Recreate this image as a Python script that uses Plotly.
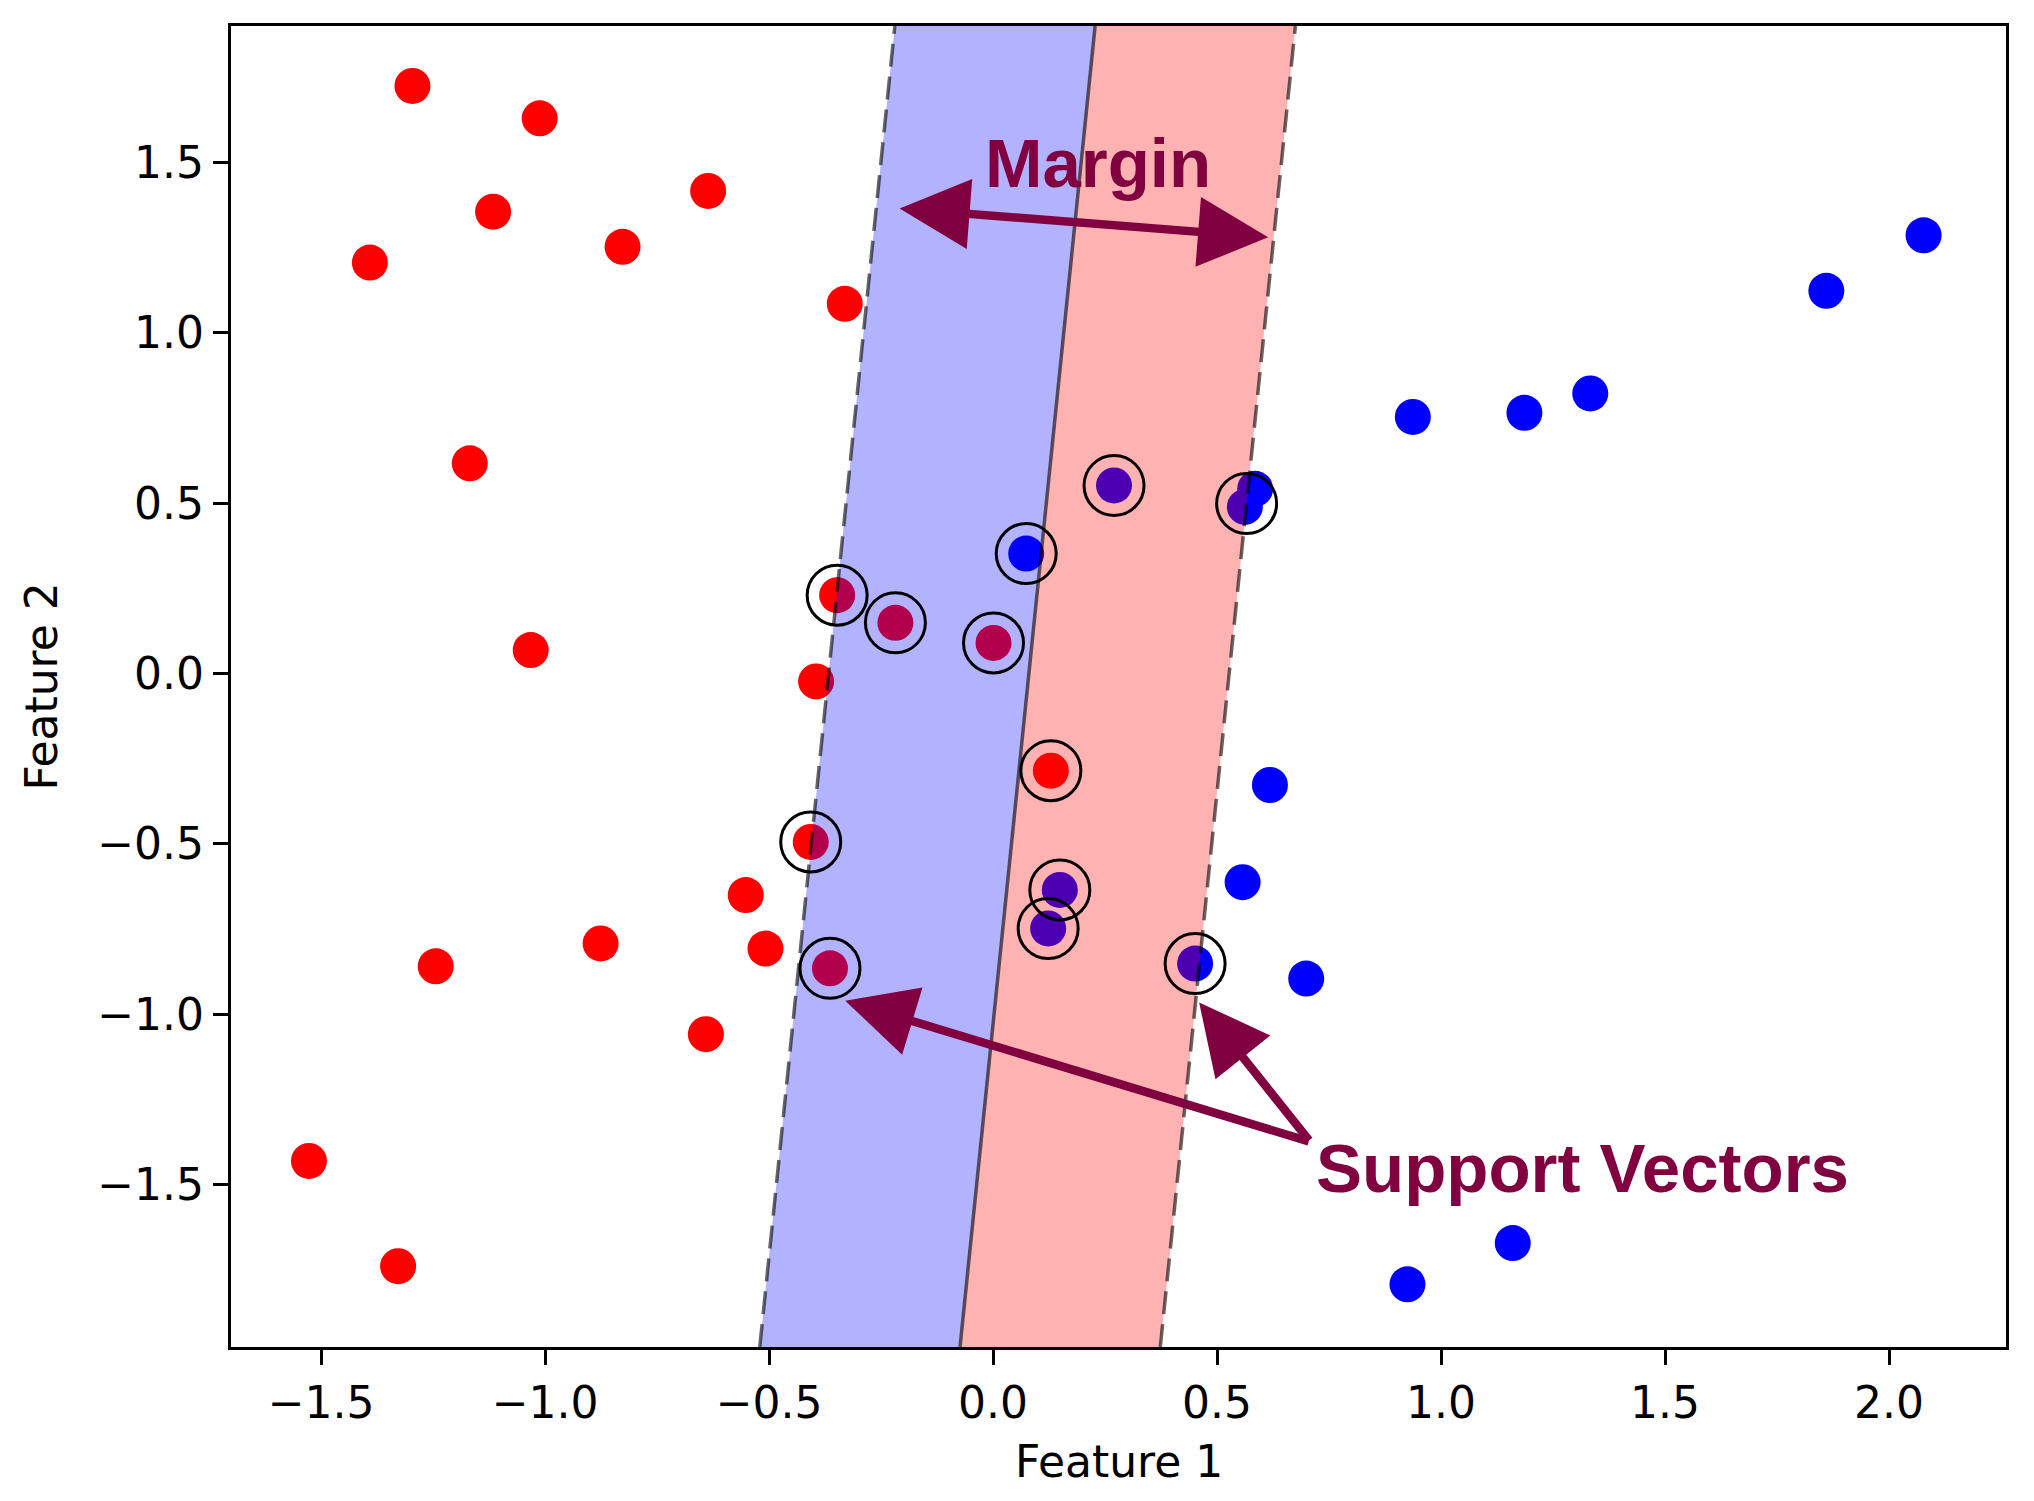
import plotly.graph_objects as go

# ---------------- data ----------------
red_x = [-1.296, -1.012, -1.116, -1.391, -0.827, -0.636, -0.331, -1.168, -1.032, -0.395,
         -0.348, -0.218, 0.001, 0.129, -0.407, -0.552, -0.876, -0.508, -1.244, -0.364,
         -0.641, -1.527, -1.328]
red_y = [1.724, 1.629, 1.355, 1.206, 1.252, 1.416, 1.085, 0.617, 0.069, -0.023,
         0.230, 0.149, 0.090, -0.285, -0.494, -0.650, -0.792, -0.807, -0.859, -0.865,
         -1.058, -1.430, -1.739]

blue_x = [2.077, 1.860, 1.333, 1.186, 0.937, 0.270, 0.585, 0.562, 0.074, 0.618,
          0.557, 0.149, 0.123, 0.451, 0.699, 1.160, 0.925]
blue_y = [1.286, 1.123, 0.822, 0.765, 0.753, 0.552, 0.542, 0.489, 0.352, -0.327,
          -0.612, -0.635, -0.748, -0.851, -0.895, -1.671, -1.792]

sv_x = [-0.348, -0.218, 0.001, 0.074, 0.270, 0.566, 0.129, -0.407, 0.149, 0.123, -0.364, 0.451]
sv_y = [0.230, 0.149, 0.090, 0.352, 0.552, 0.499, -0.285, -0.494, -0.635, -0.748, -0.865, -0.851]

# linear SVM decision function f = w1*x1 + w2*x2 + b
svm_w = [2.237, -0.174]
svm_b = -0.179

x_range = [-1.701, 2.261]
y_range = [-1.976, 1.900]

x_ticks = [-1.5, -1.0, -0.5, 0.0, 0.5, 1.0, 1.5, 2.0]
x_tick_labels = ["\u22121.5", "\u22121.0", "\u22120.5", "0.0", "0.5", "1.0", "1.5", "2.0"]
y_ticks = [-1.5, -1.0, -0.5, 0.0, 0.5, 1.0, 1.5]
y_tick_labels = ["\u22121.5", "\u22121.0", "\u22120.5", "0.0", "0.5", "1.0", "1.5"]

margin_arrow = dict(x0=-0.212, y0=1.365, x1=0.614, y1=1.280)
sv_arrow_origin = [0.708, -1.374]
sv_arrow_tips_x = [-0.330, 0.460]
sv_arrow_tips_y = [-0.960, -0.965]

ANN = "#800040"


def x_at(level, y):
    return (level - svm_b - svm_w[1] * y) / svm_w[0]


y_lo, y_hi = y_range

fig = go.Figure()

fig.add_trace(go.Scatter(x=red_x, y=red_y, mode="markers",
                         marker=dict(color="#ff0000", size=36, line=dict(width=0)),
                         showlegend=False, hoverinfo="skip"))
fig.add_trace(go.Scatter(x=blue_x, y=blue_y, mode="markers",
                         marker=dict(color="#0000ff", size=36, line=dict(width=0)),
                         showlegend=False, hoverinfo="skip"))

# bands (drawn over points, semi-transparent)
def band(l0, l1, color):
    xs = [x_at(l0, y_lo), x_at(l0, y_hi), x_at(l1, y_hi), x_at(l1, y_lo), x_at(l0, y_lo)]
    ys = [y_lo, y_hi, y_hi, y_lo, y_lo]
    fig.add_trace(go.Scatter(x=xs, y=ys, mode="none", fill="toself", fillcolor=color,
                             showlegend=False, hoverinfo="skip"))

band(-1, 0, "rgba(0,0,255,0.3)")
band(0, 1, "rgba(255,0,0,0.3)")

for level, dash in [(-1, "23px,10px"), (0, "solid"), (1, "23px,10px")]:
    fig.add_trace(go.Scatter(x=[x_at(level, y_lo), x_at(level, y_hi)], y=[y_lo, y_hi],
                             mode="lines",
                             line=dict(color="rgba(0,0,0,0.6)", width=3.5, dash=dash),
                             showlegend=False, hoverinfo="skip"))

fig.add_trace(go.Scatter(x=sv_x, y=sv_y, mode="markers",
                         marker=dict(symbol="circle-open", size=60, color="black",
                                     line=dict(width=3, color="black")),
                         showlegend=False, hoverinfo="skip"))

annotations = []
# Margin double arrow
annotations.append(dict(x=margin_arrow["x1"], y=margin_arrow["y1"], xref="x", yref="y",
                        ax=margin_arrow["x0"], ay=margin_arrow["y0"], axref="x", ayref="y",
                        text="", showarrow=True, arrowside="end+start",
                        arrowhead=2, startarrowhead=2, arrowsize=1.65, startarrowsize=1.65,
                        arrowwidth=8.5, arrowcolor=ANN, standoff=0, startstandoff=0))
annotations.append(dict(x=0.234, y=1.497, xref="x", yref="y", text="<b>Margin</b>",
                        showarrow=False, xanchor="center", yanchor="middle",
                        font=dict(family="Liberation Sans, Arial", size=69, color=ANN)))
for tx, ty in zip(sv_arrow_tips_x, sv_arrow_tips_y):
    annotations.append(dict(x=tx, y=ty, xref="x", yref="y",
                            ax=sv_arrow_origin[0], ay=sv_arrow_origin[1], axref="x", ayref="y",
                            text="", showarrow=True, arrowhead=2, arrowsize=1.65,
                            arrowwidth=8.5, arrowcolor=ANN, standoff=0))
annotations.append(dict(x=0.716, y=-1.451, xref="x", yref="y", text="<b>Support Vectors</b>",
                        showarrow=False, xanchor="left", yanchor="middle",
                        font=dict(family="Liberation Sans, Arial", size=69, color=ANN)))
# axis titles
annotations.append(dict(x=0.5, y=-0.0863, xref="paper", yref="paper", text="Feature 1",
                        showarrow=False, xanchor="center", yanchor="middle",
                        font=dict(family="DejaVu Sans", size=44, color="black")))
annotations.append(dict(x=-0.1065, y=0.5, xref="paper", yref="paper", text="Feature 2",
                        showarrow=False, xanchor="center", yanchor="middle", textangle=-90,
                        font=dict(family="DejaVu Sans", size=44, color="black")))

axis_common = dict(showgrid=False, zeroline=False, showline=True, mirror=True,
                   linecolor="black", linewidth=3.3, ticks="outside", ticklen=15,
                   tickwidth=3, tickcolor="black",
                   tickfont=dict(family="DejaVu Sans", size=44, color="black"))

fig.update_layout(
    width=2018, height=1485,
    margin=dict(l=223, r=20, t=18, b=146, pad=0),
    paper_bgcolor="white", plot_bgcolor="white",
    xaxis=dict(range=x_range, tickvals=x_ticks, ticktext=x_tick_labels, **axis_common),
    yaxis=dict(range=y_range, tickvals=y_ticks, ticktext=y_tick_labels, **axis_common),
    annotations=annotations,
    showlegend=False,
)

fig.write_html("out.html")
